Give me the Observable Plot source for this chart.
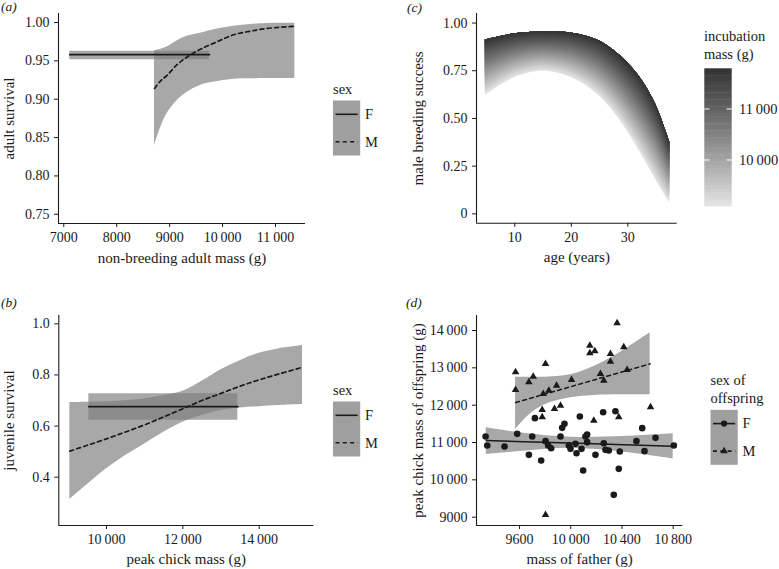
<!DOCTYPE html>
<html><head><meta charset="utf-8">
<script src="https://cdn.jsdelivr.net/npm/d3@7"></script>
<script src="https://cdn.jsdelivr.net/npm/@observablehq/plot@0.6"></script>
<style>
html,body{margin:0;padding:0;background:#fff;}
#fig{position:relative;width:779px;height:569px;overflow:hidden;background:#fff;}
#fig > svg{position:absolute;}
</style></head><body><div id="fig"></div>
<script>
// ---------- Panel (a): adult survival vs non-breeding adult mass ----------
const aFx = [7113, 9753];
const aFfit = [0.958, 0.958];
const aFlo = [0.9513, 0.9513];
const aFhi = [0.9626, 0.9626];
const aMx = [8714, 8830, 8950, 9140, 9330, 9580, 9900, 10210, 10530, 10840, 11366];
const aMfit = [0.914, 0.924, 0.931, 0.945, 0.955, 0.965, 0.975, 0.984, 0.9887, 0.9922, 0.995];
const aMlo = [0.839, 0.863, 0.881, 0.898, 0.909, 0.918, 0.923, 0.926, 0.9265, 0.927, 0.927];
const aMhi = [0.963, 0.965, 0.968, 0.976, 0.982, 0.986, 0.9915, 0.995, 0.9974, 0.9987, 0.999];
const aXTicks = [7000, 8000, 9000, 10000, 11000];
const aYTicks = [0.75, 0.80, 0.85, 0.90, 0.95, 1.00];

// ---------- Panel (b): juvenile survival vs peak chick mass ----------
const bFx = [9537, 13440];
const bFfit = [0.676, 0.676];
const bFlo = [0.623, 0.623];
const bFhi = [0.726, 0.726];
const bMx = [9039, 9500, 10000, 10500, 11000, 11500, 12000, 12500, 13000, 13500, 14000, 14500, 15135];
const bMfit = [0.502, 0.525, 0.550, 0.577, 0.605, 0.636, 0.668, 0.700, 0.728, 0.756, 0.781, 0.803, 0.830];
const bMhi = [0.692, 0.693, 0.695, 0.699, 0.707, 0.720, 0.736, 0.775, 0.820, 0.856, 0.885, 0.902, 0.915];
const bMlo = [0.313, 0.371, 0.433, 0.485, 0.530, 0.576, 0.615, 0.641, 0.661, 0.671, 0.676, 0.680, 0.684];
const bXTicks = [10000, 12000, 14000];
const bYTicks = [0.4, 0.6, 0.8, 1.0];

// ---------- Panel (c): male breeding success vs age ----------
const cAge = [4.8, 7.5, 10, 12.5, 15, 17.5, 20, 22.5, 25, 27.5, 30, 32.5, 35, 37.4];
const cTop = [0.913, 0.930, 0.944, 0.951, 0.955, 0.953, 0.948, 0.932, 0.906, 0.857, 0.790, 0.700, 0.569, 0.377];   // heaviest incubation mass
const cBottom = [0.621, 0.674, 0.714, 0.738, 0.747, 0.738, 0.714, 0.674, 0.616, 0.534, 0.429, 0.307, 0.176, 0.058]; // lightest incubation mass
const cMassRange = [9098, 11798];
const cMassTicks = [10000, 11000];
const cXTicks = [10, 20, 30];
const cYTicks = [0, 0.25, 0.50, 0.75, 1.00];

// ---------- Panel (d): peak chick mass of offspring vs mass of father ----------
const dFpx = [9335, 9348, 9483, 9582, 9673, 9699, 9720, 9769, 9803, 9824, 9847, 9920, 9933, 9951, 9985, 9998, 10037, 10045, 10071, 10084, 10097, 10115, 10128, 10128, 10193, 10253, 10258, 10271, 10297, 10349, 10336, 10375, 10383, 10513, 10558, 10576, 10662, 10805];
const dFpy = [11161, 10920, 10893, 11232, 10670, 11161, 11652, 10518, 11036, 10920, 10848, 11161, 11393, 11500, 10920, 10830, 10964, 10714, 11696, 10830, 10250, 11161, 11214, 11009, 10670, 11812, 10982, 10804, 10786, 11839, 9598, 10295, 10759, 11036, 11384, 10768, 11125, 10920];
const dMpx = [9569, 9569, 9673, 9707, 9803, 9785, 9829, 9889, 9777, 9777, 9873, 9920, 10006, 10149, 10149, 10188, 10180, 10232, 10258, 10310, 10310, 10362, 10375, 10414, 10440, 10623, 9803];
const dMpy = [12884, 12411, 12616, 12768, 13107, 12304, 12393, 12527, 11875, 11679, 11902, 11991, 12679, 13598, 13393, 13446, 11589, 12839, 12661, 13375, 13170, 14196, 11679, 13554, 12946, 11946, 9063];
const dFx = [9340, 9634, 9998, 10414, 10800];
const dFfit = [11053, 11022, 10984, 10941, 10900];
const dFhi = [11393, 11250, 11143, 11161, 11232];
const dFlo = [10679, 10768, 10848, 10741, 10563];
const dMx = [9569, 9686, 9803, 9998, 10180, 10388, 10620];
const dMfit = [12071, 12186, 12302, 12494, 12673, 12878, 13107];
const dMhi = [12750, 12750, 12750, 12813, 13036, 13420, 13938];
const dMlo = [11348, 11768, 12018, 12196, 12259, 12277, 12277];
const dXTicks = [9600, 10000, 10400, 10800];
const dYTicks = [9000, 10000, 11000, 12000, 13000, 14000];

// ---------- styling ----------
const serif = '"Liberation Serif","Times New Roman",Times,serif';
const ink = "#1a1a1a";
const ribbon = {fill: "#7f7f7f", fillOpacity: 0.68};
const dash = "4,3.3";
const lw = 1.7;
const fmtMass = d => Math.abs(d) >= 10000 ? d3.format(",")(d).replace(/,/g, "\u2009") : String(d);
const shade = d3.interpolateLab("#e5e5e5", "#333333");
const rows = (xs, cols) => xs.map((x, i) => {
  const o = {x};
  for (const k in cols) o[k] = cols[k][i];
  return o;
});

const fig = document.getElementById("fig");

function panel(o) {
  const svg = Plot.plot({
    width: o.width, height: o.height,
    marginLeft: o.m[0], marginRight: o.m[1], marginTop: o.m[2], marginBottom: o.m[3],
    x: {domain: o.xDomain},
    y: {domain: o.yDomain},
    style: {fontFamily: serif, fontSize: "14px", color: ink, background: "transparent", overflow: "visible"},
    marks: [
      ...o.marks,
      Plot.ruleX([o.xDomain[0]], {stroke: ink, strokeWidth: 1.1}),
      Plot.ruleY([o.yDomain[0]], {stroke: ink, strokeWidth: 1.1}),
      Plot.axisX({ticks: o.xTicks, tickFormat: o.xFmt, tickSize: 4, tickPadding: 5, label: null, fill: ink, fontSize: 14}),
      Plot.axisY({ticks: o.yTicks, tickFormat: o.yFmt, tickSize: 4, tickPadding: 5, label: null, fill: ink, fontSize: 14}),
      Plot.text([o.xTitle], {text: d => d, frameAnchor: "bottom", textAnchor: "middle", dy: o.xTitleDy, lineAnchor: "bottom", fontSize: 15, fill: ink}),
      Plot.text([o.yTitle], {text: d => d, frameAnchor: "left", textAnchor: "middle", dx: o.yTitleDx, rotate: -90, lineAnchor: "bottom", fontSize: 15, fill: ink})
    ]
  });
  svg.style.left = o.left + "px";
  svg.style.top = o.top + "px";
  fig.appendChild(svg);
}

// Panel (a)
{
  const F = rows(aFx, {fit: aFfit, lo: aFlo, hi: aFhi});
  const M = rows(aMx, {fit: aMfit, lo: aMlo, hi: aMhi});
  panel({
    left: 0, top: 0, width: 390, height: 280, m: [58, 85, 13, 57],
    xDomain: [6900, 11567], yDomain: [0.738, 1.0117],
    xTicks: aXTicks, yTicks: aYTicks, xFmt: fmtMass, yFmt: d3.format(".2f"),
    xTitle: "non-breeding adult mass (g)", yTitle: "adult survival", xTitleDy: 39.5, yTitleDx: -45,
    marks: [
      Plot.area(M, {x1: "x", y1: "lo", y2: "hi", ...ribbon, curve: "catmull-rom"}),
      Plot.area(F, {x1: "x", y1: "lo", y2: "hi", ...ribbon}),
      Plot.line(F, {x: "x", y: "fit", stroke: ink, strokeWidth: lw}),
      Plot.line(M, {x: "x", y: "fit", stroke: ink, strokeWidth: lw, strokeDasharray: dash, curve: "catmull-rom"})
    ]
  });
}

// Panel (c)
{
  const N = 48;
  const strips = d3.range(N).map(k => Plot.area(
    cAge.map((a, i) => ({a, lo: cBottom[i] + (cTop[i] - cBottom[i]) * k / N, hi: cTop[i]})),
    {x1: "a", y1: "lo", y2: "hi", fill: shade((k + 0.5) / N), curve: "catmull-rom"}
  ));
  panel({
    left: 390, top: 0, width: 389, height: 280, m: [86, 102.3, 13, 57.3],
    xDomain: [3.22, 38.74], yDomain: [-0.049, 1.05],
    xTicks: cXTicks, yTicks: cYTicks, xFmt: d => String(d), yFmt: d => d === 0 ? "0" : d3.format(".2f")(d),
    xTitle: "age (years)", yTitle: "male breeding success", xTitleDy: 38.5, yTitleDx: -54,
    marks: strips
  });
}

// Panel (b)
{
  const F = rows(bFx, {fit: bFfit, lo: bFlo, hi: bFhi});
  const M = rows(bMx, {fit: bMfit, lo: bMlo, hi: bMhi});
  panel({
    left: 0, top: 280, width: 390, height: 289, m: [58.3, 76.7, 35, 44],
    xDomain: [8750, 15431], yDomain: [0.211, 1.0326],
    xTicks: bXTicks, yTicks: bYTicks, xFmt: fmtMass, yFmt: d3.format(".1f"),
    xTitle: "peak chick mass (g)", yTitle: "juvenile survival", xTitleDy: 38.5, yTitleDx: -44.8,
    marks: [
      Plot.area(M, {x1: "x", y1: "lo", y2: "hi", ...ribbon, curve: "catmull-rom"}),
      Plot.area(F, {x1: "x", y1: "lo", y2: "hi", ...ribbon}),
      Plot.line(F, {x: "x", y: "fit", stroke: ink, strokeWidth: lw}),
      Plot.line(M, {x: "x", y: "fit", stroke: ink, strokeWidth: lw, strokeDasharray: dash, curve: "catmull-rom"})
    ]
  });
}

// Panel (d)
{
  const F = rows(dFx, {fit: dFfit, lo: dFlo, hi: dFhi});
  const M = rows(dMx, {fit: dMfit, lo: dMlo, hi: dMhi});
  const Fp = rows(dFpx, {y: dFpy});
  const Mp = rows(dMpx, {y: dMpy});
  panel({
    left: 390, top: 280, width: 389, height: 289, m: [86, 96.7, 35, 44],
    xDomain: [9264, 10875], yDomain: [8777, 14402],
    xTicks: dXTicks, yTicks: dYTicks, xFmt: fmtMass, yFmt: fmtMass,
    xTitle: "mass of father (g)", yTitle: "peak chick mass of offspring (g)", xTitleDy: 38, yTitleDx: -53.3,
    marks: [
      Plot.area(F, {x1: "x", y1: "lo", y2: "hi", ...ribbon, curve: "catmull-rom"}),
      Plot.area(M, {x1: "x", y1: "lo", y2: "hi", ...ribbon, curve: "catmull-rom"}),
      Plot.line(F, {x: "x", y: "fit", stroke: ink, strokeWidth: 1.5}),
      Plot.line(M, {x: "x", y: "fit", stroke: ink, strokeWidth: 1.5, strokeDasharray: dash}),
      Plot.dot(Fp, {x: "x", y: "y", r: 3.3, fill: ink, symbol: "circle"}),
      Plot.dot(Mp, {x: "x", y: "y", r: 2.8, fill: ink, symbol: "triangle"})
    ]
  });
}

// ---------- Overlay: panel labels and legends ----------
const ov = d3.select(fig).append("svg")
  .attr("width", 779).attr("height", 569)
  .style("left", "0px").style("top", "0px")
  .attr("font-family", serif).attr("fill", ink);

for (const [t, x, y] of [["(a)", 1, 11], ["(c)", 407, 11.5], ["(b)", 1, 307], ["(d)", 406, 307]]) {
  ov.append("text").attr("x", x).attr("y", y).attr("font-size", 13.5).attr("font-style", "italic").text(t);
}

function sexLegend(x, y, titleLines, withSymbols) {
  const g = ov.append("g");
  titleLines.forEach((t, i) => g.append("text").attr("x", x).attr("y", y + i * 18.3).attr("font-size", 14.5).text(t));
  const top = y + (titleLines.length - 1) * 18.3 + 6.5;
  g.append("rect").attr("x", x).attr("y", top).attr("width", 27.2).attr("height", 55)
    .attr("fill", "#7f7f7f").attr("fill-opacity", 0.75);
  [["F", null, 13.8], ["M", dash, 41.3]].forEach(([lab, da, dy], i) => {
    const ly = top + dy;
    g.append("line").attr("x1", x + 2.5).attr("x2", x + 24.7).attr("y1", ly).attr("y2", ly)
      .attr("stroke", ink).attr("stroke-width", 1.6).attr("stroke-dasharray", da);
    if (withSymbols) {
      const sym = i === 0 ? d3.symbolCircle : d3.symbolTriangle;
      const r = i === 0 ? 3.1 : 2.8;
      g.append("path").attr("d", d3.symbol(sym, r * r * Math.PI)()).attr("transform", `translate(${x + 13.6},${ly})`).attr("fill", ink);
    }
    g.append("text").attr("x", x + 32).attr("y", ly + 4.8).attr("font-size", 14.5).text(lab);
  });
}
sexLegend(333, 94, ["sex"], false);
sexLegend(333, 395, ["sex"], false);
sexLegend(710.5, 385, ["sex of", "offspring"], true);

// colour bar for panel (c)
{
  const g = ov.append("g");
  g.append("text").attr("x", 704).attr("y", 41).attr("font-size", 14.5).text("incubation");
  g.append("text").attr("x", 704).attr("y", 58.5).attr("font-size", 14.5).text("mass (g)");
  const ys = d3.scaleLinear().domain(cMassRange).range([206, 68.3]);
  const nb = 40;
  const step = (cMassRange[1] - cMassRange[0]) / nb;
  for (let k = 0; k < nb; k++) {
    const m0 = cMassRange[0] + k * step, m1 = m0 + step;
    g.append("rect").attr("x", 704.3).attr("width", 27.4)
      .attr("y", ys(m1)).attr("height", ys(m0) - ys(m1) + 0.4)
      .attr("fill", shade((k + 0.5) / nb));
  }
  for (const m of cMassTicks) {
    const y = ys(m);
    g.append("line").attr("x1", 704.3).attr("x2", 709.5).attr("y1", y).attr("y2", y).attr("stroke", "#fff").attr("stroke-width", 1);
    g.append("line").attr("x1", 726.5).attr("x2", 731.7).attr("y1", y).attr("y2", y).attr("stroke", "#fff").attr("stroke-width", 1);
    g.append("text").attr("x", 739).attr("y", y + 4.8).attr("font-size", 14.5).text(fmtMass(m));
  }
}
</script></body></html>
